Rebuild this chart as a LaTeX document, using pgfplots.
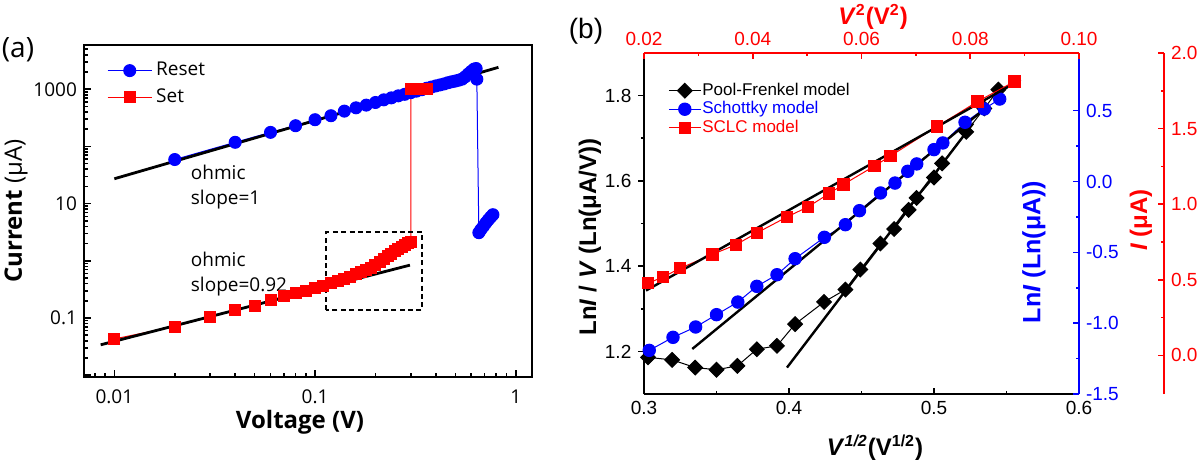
\documentclass[border=0pt]{standalone}
\usepackage{fontspec}
\setmainfont{Liberation Sans}
\newfontfamily\osans{Open Sans}
\usepackage{pgfplots}
\pgfplotsset{compat=1.18}

\pgfplotsset{
  bframe/.style={
    at={(322pt,34pt)}, anchor=south west,
    scale only axis, width=217.5pt, height=170.5pt,
    tick label style={font=\fontsize{9.5}{11}\selectfont},
    major tick length=2.8pt, minor tick length=1.6pt,
    /pgf/number format/assume math mode=true,
  },
}

\begin{document}
\begin{tikzpicture}[x=1pt,y=1pt]
\useasboundingbox (0,0) rectangle (600,231);

% ---------------- panel (a)
\begin{axis}[
  at={(42pt,42.5pt)}, anchor=south west,
  scale only axis, width=224pt, height=166pt,
  xmode=log, ymode=log,
  xmin=0.00706, xmax=1.205, ymin=0.0093, ymax=5930,
  xtick={0.01,0.1,1}, xticklabels={0.01,0.1,1},
  ytick={0.01,0.1,1,10,100,1000}, yticklabels={,0.1,,10,,1000},
  minor xtick={0.008,0.009,0.02,0.03,0.04,0.05,0.06,0.07,0.08,0.09,0.2,0.3,0.4,0.5,0.6,0.7,0.8,0.9},
  minor ytick={0.02,0.03,0.04,0.05,0.06,0.07,0.08,0.09,0.2,0.3,0.4,0.5,0.6,0.7,0.8,0.9,
    2,3,4,5,6,7,8,9,20,30,40,50,60,70,80,90,200,300,400,500,600,700,800,900,2000,3000,4000,5000},
  xtick pos=left, ytick pos=left, tick align=inside,
  major tick length=3.5pt, minor tick length=1.8pt,
  axis line style={line width=1pt},
  tick style={line width=0.8pt, black},
  tick label style={font=\osans\fontsize{9.5}{11}\selectfont},
  xticklabel style={yshift=-3pt},
  legend style={draw=none, fill=none, at={(0.051,0.961)}, anchor=north west,
    font=\osans\fontsize{9.5}{11}\selectfont, row sep=1pt, inner sep=0pt},
  legend cell align=left,
  legend image code/.code={\draw[mark repeat=2,mark phase=2] plot coordinates {(0pt,0pt) (11pt,0pt) (22pt,0pt)};},
]
\addplot[blue, line width=0.5pt, mark=*, mark size=3pt, mark options={fill=blue}] coordinates {
 (0.02,59) (0.04,118) (0.06,176) (0.08,230) (0.10,293) (0.12,344) (0.14,414) (0.16,473)
 (0.18,527) (0.20,586) (0.22,652) (0.24,706) (0.26,766) (0.28,815) (0.30,870) (0.32,925)
 (0.34,980) (0.36,1040) (0.38,1090) (0.40,1143) (0.42,1190) (0.44,1238) (0.46,1300)
 (0.48,1350) (0.50,1390) (0.52,1440) (0.54,1500) (0.56,1650) (0.58,1850) (0.60,2050)
 (0.62,2250) (0.635,2300) (0.64,1500) (0.655,3.1) (0.67,3.5) (0.69,4.0) (0.71,4.6)
 (0.73,5.2) (0.75,5.8) (0.77,6.4)};
\addlegendentry{Reset}
\addplot[red, line width=0.5pt, mark=square*, mark size=2.75pt, mark options={fill=red}] coordinates {
 (0.01,0.043) (0.02,0.071) (0.03,0.105) (0.04,0.138) (0.05,0.165) (0.06,0.203) (0.07,0.24)
 (0.08,0.27) (0.09,0.30) (0.10,0.33) (0.11,0.37) (0.12,0.41) (0.13,0.45) (0.14,0.49)
 (0.15,0.53) (0.16,0.58) (0.17,0.63) (0.18,0.69) (0.19,0.76) (0.20,0.84) (0.21,0.94)
 (0.22,1.06) (0.23,1.20) (0.24,1.34) (0.25,1.49) (0.26,1.63) (0.27,1.77) (0.28,1.90)
 (0.29,2.02) (0.30,2.15) (0.30,1000) (0.31,1000) (0.32,1000) (0.33,1000) (0.34,1000)
 (0.35,1000) (0.36,1000)};
\addlegendentry{Set}
% ohmic fits
\addplot[black, line width=1.4pt, forget plot] coordinates {(0.01,27.2) (0.82,2414)};
\addplot[black, line width=1.4pt, forget plot] coordinates {(0.00855,0.034) (0.297,0.84)};
\draw[black, line width=1pt, dash pattern=on 2.5pt off 1.7pt]
  (axis cs:0.114,0.138) rectangle (axis cs:0.342,3.15);
\node[anchor=west, align=left, font=\osans\fontsize{9.5}{12.5}\selectfont]
  at (axis cs:0.0222,19.3) {ohmic\\slope=1};
\node[anchor=west, align=left, font=\osans\fontsize{9.5}{12.5}\selectfont]
  at (axis cs:0.0222,0.583) {ohmic\\slope=0.92};
\end{axis}

\node[font=\osans\fontsize{14}{16}\selectfont] at (9,206) {(a)};
\node[rotate=90, font=\osans\fontsize{12}{14}\selectfont] at (8,125.5) {\textbf{Current} (μA)};
\node[font=\osans\bfseries\fontsize{12}{14}\selectfont] at (150,20) {Voltage (V)};

% ---------------- panel (b): Pool-Frenkel, black axes
\begin{axis}[bframe,
  xmin=0.3, xmax=0.6, ymin=1.1, ymax=1.9,
  axis x line*=bottom, axis y line*=left,
  axis line style={-, line width=0.8pt, black},
  xtick={0.3,0.4,0.5,0.6}, minor x tick num=1,
  ytick={1.2,1.4,1.6,1.8}, minor y tick num=1,
  xtick align=inside, ytick align=outside,
  tick style={line width=0.8pt, black},
  xticklabel style={/pgf/number format/.cd, fixed, precision=1},
  yticklabel style={/pgf/number format/.cd, fixed, precision=1},
]
\addplot[black, line width=0.5pt, mark=square*, mark size=2.6pt, mark options={rotate=45, fill=black}] coordinates {
 (0.3028,1.186) (0.3194,1.180) (0.3353,1.162) (0.35,1.157) (0.3644,1.166) (0.3778,1.205)
 (0.3917,1.213) (0.4042,1.264) (0.4242,1.316) (0.4389,1.345) (0.4492,1.392) (0.463,1.453)
 (0.4725,1.487) (0.4825,1.532) (0.488,1.56) (0.5,1.608) (0.5056,1.641) (0.5222,1.715)
 (0.5347,1.77) (0.5444,1.814)};
\addplot[black, line width=1.2pt] coordinates {(0.3986,1.162) (0.527,1.735)};
\end{axis}

% Schottky, blue right axis
\begin{axis}[bframe,
  xmin=0.3, xmax=0.6, ymin=-1.5, ymax=0.907,
  hide x axis, axis y line*=right,
  axis line style={-, line width=0.8pt, blue},
  ytick={-1.5,-1,-0.5,0,0.5}, minor y tick num=1,
  ytick align=inside,
  tick style={line width=0.8pt, blue},
  yticklabel style={blue, /pgf/number format/.cd, fixed, fixed zerofill, precision=1},
]
\addplot[blue, line width=0.5pt, mark=*, mark size=3.1pt, mark options={fill=blue}] coordinates {
 (0.3036,-1.192) (0.32,-1.10) (0.3356,-1.027) (0.35,-0.94) (0.3647,-0.851) (0.3778,-0.74)
 (0.3917,-0.658) (0.4042,-0.545) (0.4244,-0.394) (0.4389,-0.305) (0.4486,-0.206)
 (0.4631,-0.081) (0.4731,-0.011) (0.4819,0.072) (0.4881,0.124) (0.5,0.225) (0.5061,0.272)
 (0.5214,0.418) (0.5347,0.512) (0.5453,0.582)};
\addplot[black, line width=1.2pt] coordinates {(0.3333,-1.182) (0.5375,0.535)};
\end{axis}

% SCLC, red top axis
\begin{axis}[bframe,
  xmin=0.02, xmax=0.10, ymin=-0.255, ymax=2.0,
  axis x line*=top, axis y line=none,
  axis line style={-, line width=0.8pt, red},
  xtick={0.02,0.04,0.06,0.08,0.10}, minor x tick num=1,
  xtick align=inside,
  tick style={line width=0.8pt, red},
  xticklabel style={red, /pgf/number format/.cd, fixed, fixed zerofill, precision=2},
  legend style={draw=none, fill=none, at={(0.055,0.916)}, anchor=north west,
    font=\fontsize{8.5}{9}\selectfont, row sep=0.6pt, inner sep=0pt, nodes={inner sep=0.5pt}},
  legend cell align=left,
  legend image code/.code={\draw[mark repeat=2,mark phase=2] plot coordinates {(0pt,0pt) (8pt,0pt) (16pt,0pt)};},
]
\addlegendimage{black, line width=0.5pt, mark=square*, mark size=2.6pt, mark options={rotate=45, fill=black}}
\addlegendentry{Pool-Frenkel model}
\addlegendimage{blue, line width=0.5pt, mark=*, mark size=3.1pt, mark options={fill=blue}}
\addlegendentry{\textcolor{blue}{Schottky model}}
\addplot[red, line width=0.5pt, mark=square*, mark size=2.85pt, mark options={fill=red}] coordinates {
 (0.02074,0.478) (0.02348,0.518) (0.02667,0.577) (0.03259,0.668) (0.03689,0.732)
 (0.04074,0.81) (0.0463,0.916) (0.05015,0.982) (0.05407,1.071) (0.05667,1.131)
 (0.06237,1.252) (0.06533,1.319) (0.07385,1.513) (0.08133,1.679) (0.08815,1.812)};
\addlegendentry{\textcolor{red}{SCLC model}}
\addplot[black, line width=1.2pt, forget plot] coordinates {(0.02037,0.429) (0.08926,1.823)};
\end{axis}

% offset red right axis
\begin{axis}[
  at={(581pt,34pt)}, anchor=south west,
  scale only axis, width=1pt, height=170.5pt,
  xmin=0, xmax=1, ymin=-0.255, ymax=2.0,
  hide x axis, axis y line*=right,
  axis line style={-, line width=0.8pt, red},
  ytick={0,0.5,1,1.5,2}, minor y tick num=1,
  ytick align=inside,
  major tick length=2.8pt, minor tick length=1.6pt,
  tick style={line width=0.8pt, red},
  /pgf/number format/assume math mode=true,
  yticklabel style={red, font=\fontsize{9.5}{11}\selectfont, /pgf/number format/.cd, fixed, fixed zerofill, precision=1},
]
\end{axis}

\node[font=\fontsize{14}{16}\selectfont] at (293,215.5) {(b)};
\node[rotate=90, font=\bfseries\fontsize{12}{14}\selectfont] at (295,112.5) {Ln\textit{I} / \textit{V} (Ln(μA/V))};
\node[rotate=90, blue, font=\bfseries\fontsize{12.5}{14}\selectfont] at (517,105) {Ln\textit{I} (Ln(μA))};
\node[rotate=90, red, font=\bfseries\fontsize{12}{14}\selectfont] at (570.5,121) {\textit{I} (μA)};
\node[font=\bfseries\fontsize{12}{14}\selectfont] at (437.5,7) {\textit{V}\textsuperscript{\textit{1/2}}(V\textsuperscript{1/2})};
\node[red, font=\bfseries\fontsize{12}{14}\selectfont] at (436.5,222.5) {\textit{V}\textsuperscript{2}(V\textsuperscript{2})};
\end{tikzpicture}
\end{document}
